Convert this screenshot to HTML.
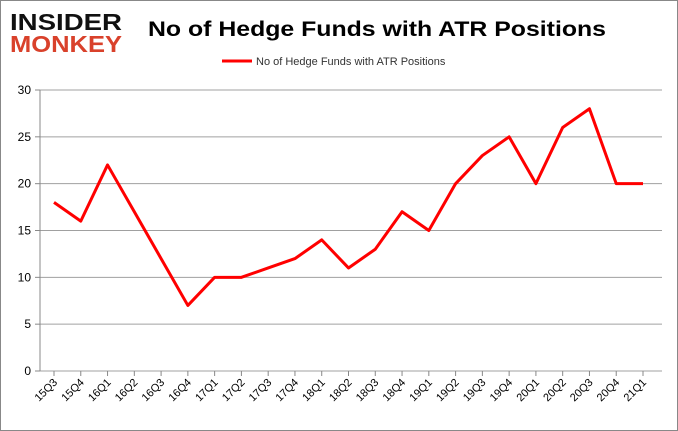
<!DOCTYPE html>
<html><head><meta charset="utf-8"><style>
body{margin:0;background:#fff}
svg{display:block;font-family:"Liberation Sans",sans-serif}
</style></head><body>
<svg width="678" height="431" viewBox="0 0 678 431">
<rect x="0.5" y="0.5" width="677" height="430" fill="#fff" stroke="#888"/>
<g>
<text x="10" y="30" font-size="23" font-weight="bold" fill="#111" textLength="112" lengthAdjust="spacingAndGlyphs">INSIDER</text>
<text x="10" y="52" font-size="23" font-weight="bold" fill="#d9412b" textLength="112" lengthAdjust="spacingAndGlyphs">MONKEY</text>
</g>
<text x="377" y="36" font-size="21" font-weight="bold" text-anchor="middle" fill="#000" textLength="458" lengthAdjust="spacingAndGlyphs">No of Hedge Funds with ATR Positions</text>
<line x1="222" y1="61" x2="252" y2="61" stroke="#f00" stroke-width="3"/>
<text x="256" y="65" font-size="11" fill="#333">No of Hedge Funds with ATR Positions</text>
<g id="grid"></g><g id="axes"></g><g id="series"></g>
</svg>
<script>
const categories=["15Q3","15Q4","16Q1","16Q2","16Q3","16Q4","17Q1","17Q2","17Q3","17Q4","18Q1","18Q2","18Q3","18Q4","19Q1","19Q2","19Q3","19Q4","20Q1","20Q2","20Q3","20Q4","21Q1"];
const values=[18,16,22,17,12,7,10,10,11,12,14,11,13,17,15,20,23,25,20,26,28,20,20];
const yTicks=[0,5,10,15,20,25,30];
const NS="http://www.w3.org/2000/svg";
const L=40,R=662,T=90,B=371,yMax=30;
const xs=i=>54+i*(643-54)/(categories.length-1);
const ys=v=>B-(v/yMax)*(B-T);
function mk(tag,attrs,parent){const e=document.createElementNS(NS,tag);for(const k in attrs)e.setAttribute(k,attrs[k]);parent.appendChild(e);return e;}
const grid=document.getElementById('grid'),axes=document.getElementById('axes'),ser=document.getElementById('series');
yTicks.forEach(t=>{
 const g=mk('line',{x1:L,x2:R,y1:ys(t),y2:ys(t),stroke:'#a0a0a0','stroke-width':1},grid);
 
 
 const tk=mk('line',{x1:L-5,x2:L,y1:ys(t),y2:ys(t),stroke:'#888'},axes);
 
 
 const tx=mk('text',{x:L-9,y:ys(t)+4,'font-size':12,'text-anchor':'end',fill:'#000'},axes);
 tx.textContent=t;
 
 
});
const ya=mk('line',{x1:L,x2:L,y1:T,y2:B,stroke:'#888'},axes);


categories.forEach((c,i)=>{
 const x=xs(i);
 const tk=mk('line',{x1:x,x2:x,y1:B,y2:B+5,stroke:'#888'},axes);
 
 
 const tx=mk('text',{x:x+4,y:B+12,'font-size':11,'text-anchor':'end',fill:'#000',transform:`rotate(-45 ${x+4} ${B+12})`},axes);
 tx.textContent=c;
 
 
});
const pl=mk('polyline',{points:values.map((v,i)=>xs(i)+','+ys(v)).join(' '),fill:'none',stroke:'#f00','stroke-width':3,'stroke-linejoin':'round'},ser);


</script>
</body></html>
